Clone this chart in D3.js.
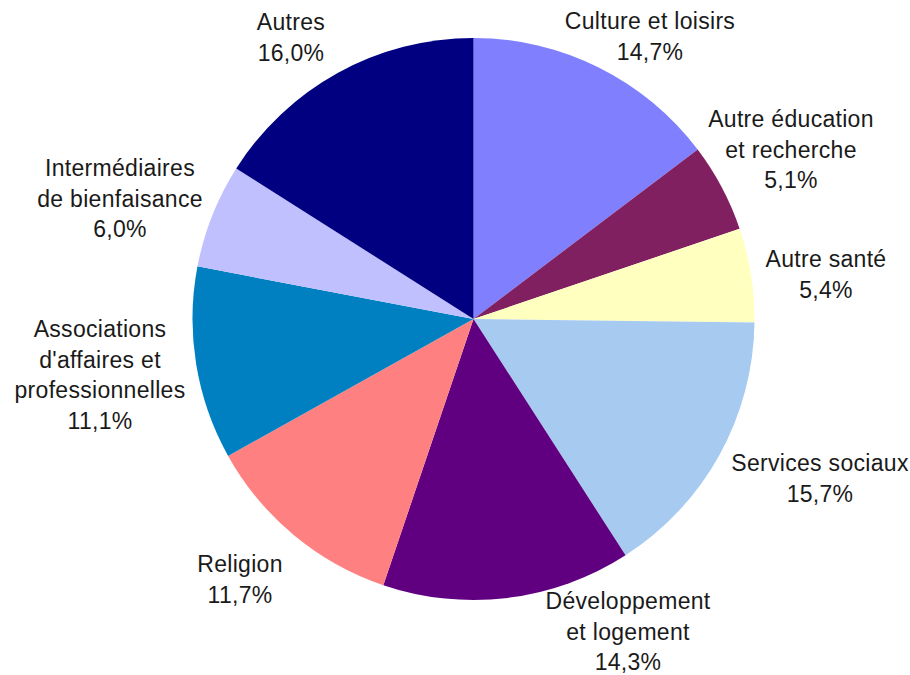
<!DOCTYPE html>
<html><head><meta charset="utf-8">
<script src="https://cdn.jsdelivr.net/npm/d3@7"></script>
<style>body{margin:0;background:#fff}svg{display:block}</style>
</head><body>
<svg id="c" width="910" height="675"></svg>
<script>
// Data
const categories = ["Culture et loisirs","Autre éducation et recherche","Autre santé","Services sociaux","Développement et logement","Religion","Associations d'affaires et professionnelles","Intermédiaires de bienfaisance","Autres"];
const values = [14.7, 5.1, 5.4, 15.7, 14.3, 11.7, 11.1, 6.0, 16.0];
const labelLines = [
  ["Culture et loisirs"],
  ["Autre éducation","et recherche"],
  ["Autre santé"],
  ["Services sociaux"],
  ["Développement","et logement"],
  ["Religion"],
  ["Associations","d'affaires et","professionnelles"],
  ["Intermédiaires","de bienfaisance"],
  ["Autres"]
];
const colors = ["#8080FF","#802060","#FFFFC0","#A6CAF0","#600080","#FF8080","#0080C0","#C0C0FF","#000080"];

// Layout (label centre x / first baseline, relative to pie centre)
const cx = 473.5, cy = 319, R = 281;
const labelLayout = [
  [176.5,-290],[317.5,-192],[352.5,-52],[346.5,152],[154.5,290],[-233.5,253],[-373.5,18],[-353.5,-143],[-182.5,-289]
];
const lineH = 30.5;

const svg = d3.select("#c");
const g = svg.append("g").attr("transform",`translate(${cx},${cy})`);
const pie = d3.pie().sort(null).value(d=>d);
const arc = d3.arc().innerRadius(0).outerRadius(R);
const arcs = pie(values);
g.selectAll("path").data(arcs).enter().append("path")
  .attr("d",arc).attr("fill",(d,i)=>colors[i]);

const fmt = v => d3.format(".1f")(v).replace(".",",") + "%";
const lab = g.selectAll("text.lab").data(arcs).enter().append("text")
  .attr("class","lab")
  .attr("text-anchor","middle")
  .attr("font-family","'Liberation Sans', Arial, sans-serif")
  .attr("font-size","23px")
  .attr("letter-spacing","0.3px")
  .attr("fill","#1a1a1a")
  .attr("transform",(d,i)=>`translate(${labelLayout[i][0]},${labelLayout[i][1]})`);
lab.each(function(d,i){
  const t = d3.select(this);
  const lines = labelLines[i].concat([fmt(values[i])]);
  lines.forEach((s,k)=>t.append("tspan").attr("x",0).attr("y",k*lineH).text(s));
});
</script>
</body></html>
